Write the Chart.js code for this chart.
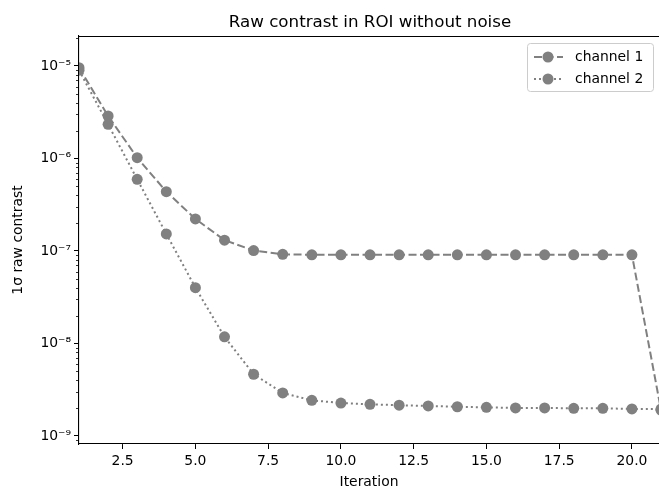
<!DOCTYPE html>
<html>
<head>
<meta charset="utf-8">
<title>Raw contrast in ROI without noise</title>
<script src="https://cdn.jsdelivr.net/npm/chart.js@4"></script>
<style>
    html, body { margin: 0; padding: 0; background: #fff; }
    #wrap { width: 659px; height: 489px; position: relative; }
</style>
</head>
<body>
<div id="wrap"><canvas id="chart"></canvas></div>
<script>
const iterations = [1, 2, 3, 4, 5, 6, 7, 8, 9, 10, 11, 12, 13, 14, 15, 16, 17, 18, 19, 20, 21];
const channel1 = [9.6e-6, 2.88e-6, 1.02e-6, 4.38e-7, 2.22e-7, 1.31e-7, 1.01e-7, 9.2e-8, 9.1e-8, 9.1e-8,
    9.1e-8, 9.1e-8, 9.1e-8, 9.1e-8, 9.1e-8, 9.1e-8, 9.1e-8, 9.1e-8, 9.1e-8, 9.1e-8, 1.9e-9];
const channel2 = [9.0e-6, 2.34e-6, 5.96e-7, 1.53e-7, 4.01e-8, 1.18e-8, 4.65e-9, 2.92e-9, 2.43e-9, 2.27e-9,
    2.2e-9, 2.15e-9, 2.11e-9, 2.07e-9, 2.04e-9, 2.01e-9, 2.01e-9, 1.99e-9, 1.99e-9, 1.96e-9, 1.95e-9];
const seriesNames = ['channel 1', 'channel 2'];
const xTicks = [2.5, 5.0, 7.5, 10.0, 12.5, 15.0, 17.5, 20.0];
const yTicks = [1e-9, 1e-8, 1e-7, 1e-6, 1e-5];
const yTickLabels = ['10⁻⁹', '10⁻⁸', '10⁻⁷', '10⁻⁶', '10⁻⁵'];

const FONT = "'DejaVu Sans', sans-serif";
const GRAY = '#808080';
const dashes = [[8, 3.5], [2, 3]];

// matplotlib-ish minor ticks, top spine, title and legend
const extrasPlugin = {
    id: 'extras',
    afterDraw(chart) {
        const ctx = chart.ctx;
        const area = chart.chartArea;
        const y = chart.scales.y;
        ctx.save();

        // minor ticks on log axis
        ctx.strokeStyle = '#000';
        ctx.lineWidth = 0.8;
        for (let e = -10; e <= -5; e++) {
            for (let k = 2; k <= 9; k++) {
                const v = k * Math.pow(10, e);
                if (v < y.min || v > y.max) continue;
                const py = Math.round(y.getPixelForValue(v)) + 0.5;
                ctx.beginPath();
                ctx.moveTo(area.left - 3, py);
                ctx.lineTo(area.left, py);
                ctx.stroke();
            }
        }

        // top spine
        ctx.lineWidth = 1.1;
        ctx.beginPath();
        ctx.moveTo(area.left - 0.5, area.top + 0.5);
        ctx.lineTo(area.right, area.top + 0.5);
        ctx.stroke();

        // title
        ctx.fillStyle = '#000';
        ctx.font = `16.7px ${FONT}`;
        ctx.textAlign = 'center';
        ctx.textBaseline = 'alphabetic';
        ctx.fillText('Raw contrast in ROI without noise', (area.left + 661) / 2, 27);

        // legend
        const bx = 527, by = 43, bw = 126, bh = 48;
        ctx.fillStyle = 'rgba(255,255,255,0.8)';
        ctx.strokeStyle = '#cccccc';
        ctx.lineWidth = 1;
        ctx.beginPath();
        ctx.roundRect(bx + 0.5, by + 0.5, bw, bh, 3);
        ctx.fill();
        ctx.stroke();

        seriesNames.forEach((name, i) => {
            const ly = 57 + i * 22;
            ctx.strokeStyle = GRAY;
            ctx.lineWidth = 2;
            ctx.setLineDash(dashes[i]);
            ctx.beginPath();
            ctx.moveTo(534, ly);
            ctx.lineTo(563, ly);
            ctx.stroke();
            ctx.setLineDash([]);
            ctx.fillStyle = GRAY;
            ctx.beginPath();
            ctx.arc(548, ly, 5.5, 0, Math.PI * 2);
            ctx.fill();
            ctx.fillStyle = '#000';
            ctx.font = `13.9px ${FONT}`;
            ctx.textAlign = 'left';
            ctx.textBaseline = 'middle';
            ctx.fillText(name, 575, ly);
        });

        ctx.restore();
    }
};

const datasets = [channel1, channel2].map((values, i) => ({
    label: seriesNames[i],
    data: values.map((v, j) => ({ x: iterations[j], y: v })),
    borderColor: GRAY,
    backgroundColor: GRAY,
    borderWidth: 2,
    borderDash: dashes[i],
    pointRadius: 5.5,
    pointHoverRadius: 5.5,
    pointBorderWidth: 0,
    pointBackgroundColor: GRAY,
    tension: 0,
    clip: 0
}));

new Chart(document.getElementById('chart'), {
    type: 'line',
    data: { datasets },
    plugins: [extrasPlugin],
    options: {
        responsive: true,
        maintainAspectRatio: false,
        animation: false,
        layout: { autoPadding: false, padding: { top: 36, left: 0, right: 0, bottom: 0 } },
        plugins: {
            legend: { display: false },
            title: { display: false },
            tooltip: { enabled: false }
        },
        scales: {
            x: {
                type: 'linear',
                min: 1,
                max: 20.93,
                afterBuildTicks: scale => { scale.ticks = xTicks.map(v => ({ value: v })); },
                afterFit: scale => { scale.height = 45; },
                grid: { drawOnChartArea: false, tickLength: 5, tickColor: '#000', tickWidth: 1 },
                border: { color: '#000', width: 1.1 },
                ticks: {
                    color: '#000',
                    padding: 4,
                    maxRotation: 0,
                    autoSkip: false,
                    font: { family: FONT, size: 13.9 },
                    callback: v => v.toFixed(1)
                },
                title: {
                    display: true,
                    text: 'Iteration',
                    color: '#000',
                    font: { family: FONT, size: 13.9 },
                    padding: { top: 0, bottom: -2 }
                }
            },
            y: {
                type: 'logarithmic',
                min: 8.19e-10,
                max: 2.11e-5,
                afterBuildTicks: scale => { scale.ticks = yTicks.map(v => ({ value: v })); },
                afterFit: scale => { scale.width = 79; },
                grid: { drawOnChartArea: false, tickLength: 5, tickColor: '#000', tickWidth: 1 },
                border: { color: '#000', width: 1.1 },
                ticks: {
                    color: '#000',
                    padding: 3,
                    autoSkip: false,
                    font: { family: FONT, size: 13.9 },
                    callback: v => {
                        const i = yTicks.findIndex(t => Math.abs(t - v) / t < 1e-6);
                        return i >= 0 ? yTickLabels[i] : '';
                    }
                },
                title: {
                    display: true,
                    text: '1σ raw contrast',
                    color: '#000',
                    font: { family: FONT, size: 13.9 },
                    padding: { top: 10, bottom: 0 }
                }
            }
        }
    }
});
</script>
</body>
</html>
